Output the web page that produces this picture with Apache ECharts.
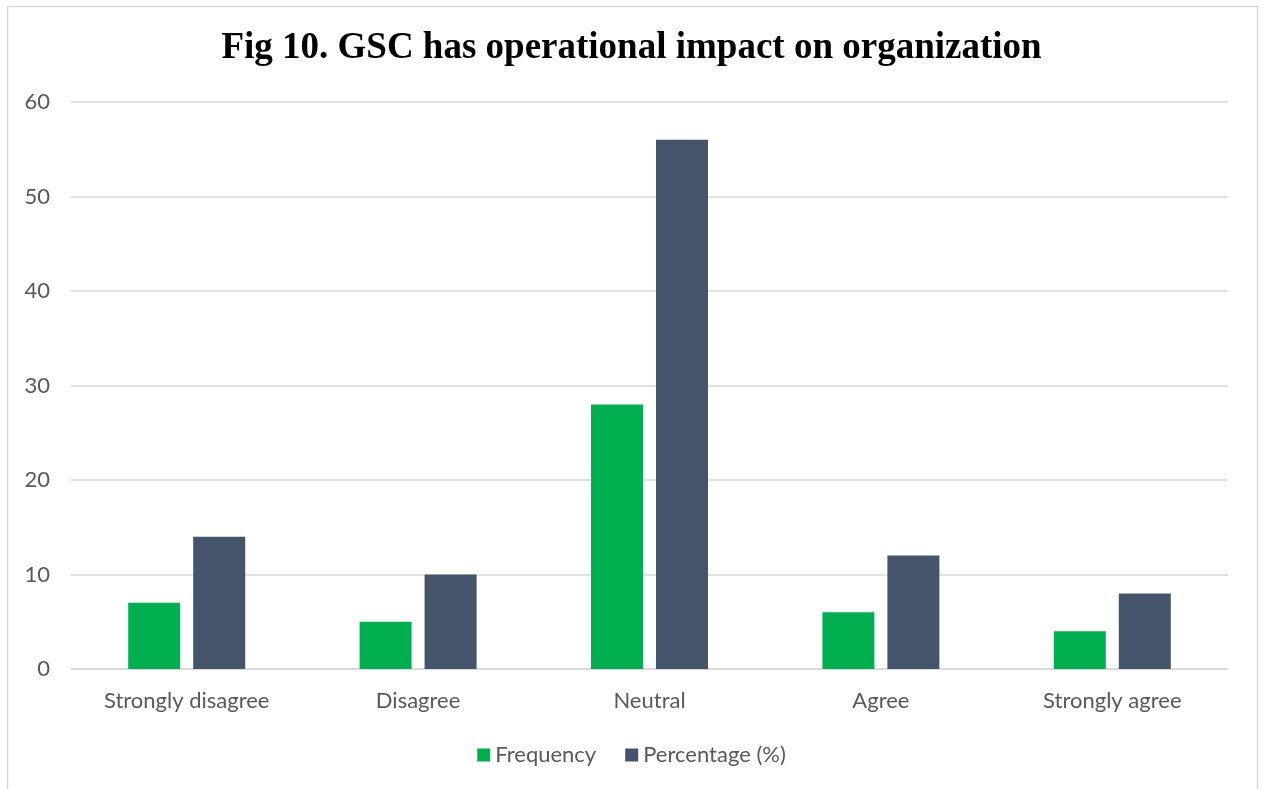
<!DOCTYPE html>
<html><head><meta charset="utf-8">
<script src="https://cdn.jsdelivr.net/npm/echarts@6/dist/echarts.min.js"></script>
<style>html,body{margin:0;padding:0;background:#fff}#c{width:1263px;height:789px}</style>
</head><body><div id="c"></div>
<script>
const categories = ['Strongly disagree', 'Disagree', 'Neutral', 'Agree', 'Strongly agree'];
const frequency = [7, 5, 28, 6, 4];
const percentage = [14, 10, 56, 12, 8];
const yTicks = { min: 0, max: 60, interval: 10 };

const chart = echarts.init(document.getElementById('c'), null, { renderer: 'canvas' });
const lab = { fontFamily: 'Lato, "Open Sans", sans-serif', fontSize: 22, color: '#595959' };
chart.setOption({
  animation: false,
  backgroundColor: '#fff',
  title: {
    text: 'Fig 10. GSC has operational impact on organization',
    left: 'center', top: 25,
    textStyle: { fontFamily: '"Liberation Serif", "Times New Roman", serif', fontWeight: 'bold', fontSize: 37, color: '#000' }
  },
  graphic: [{
    type: 'rect', shape: { x: 7.5, y: 6.5, width: 1250, height: 820 },
    style: { fill: null, stroke: '#d9d9d9', lineWidth: 1.5 }, silent: true
  }],
  legend: {
    bottom: 18, left: 'center', itemWidth: 13, itemHeight: 13, itemGap: 29,
    icon: 'rect', textStyle: Object.assign({}, lab, { padding: [0, 0, 0, 0] })
  },
  grid: { left: 71, right: 35, top: 102, bottom: 120, containLabel: false },
  xAxis: {
    type: 'category', data: categories,
    axisLine: { lineStyle: { color: '#d9d9d9', width: 1.5 } },
    axisTick: { show: false },
    axisLabel: Object.assign({}, lab, { margin: 21 })
  },
  yAxis: {
    type: 'value', min: yTicks.min, max: yTicks.max, interval: yTicks.interval,
    axisLine: { show: false }, axisTick: { show: false },
    splitLine: { lineStyle: { color: '#d9d9d9', width: 1.5 } },
    axisLabel: Object.assign({}, lab, { margin: 21 })
  },
  series: [
    { name: 'Frequency', type: 'bar', data: frequency, barWidth: 52, barGap: '25%', itemStyle: { color: '#00b050' } },
    { name: 'Percentage (%)', type: 'bar', data: percentage, barWidth: 52, itemStyle: { color: '#44546a' } }
  ]
});
</script></body></html>
